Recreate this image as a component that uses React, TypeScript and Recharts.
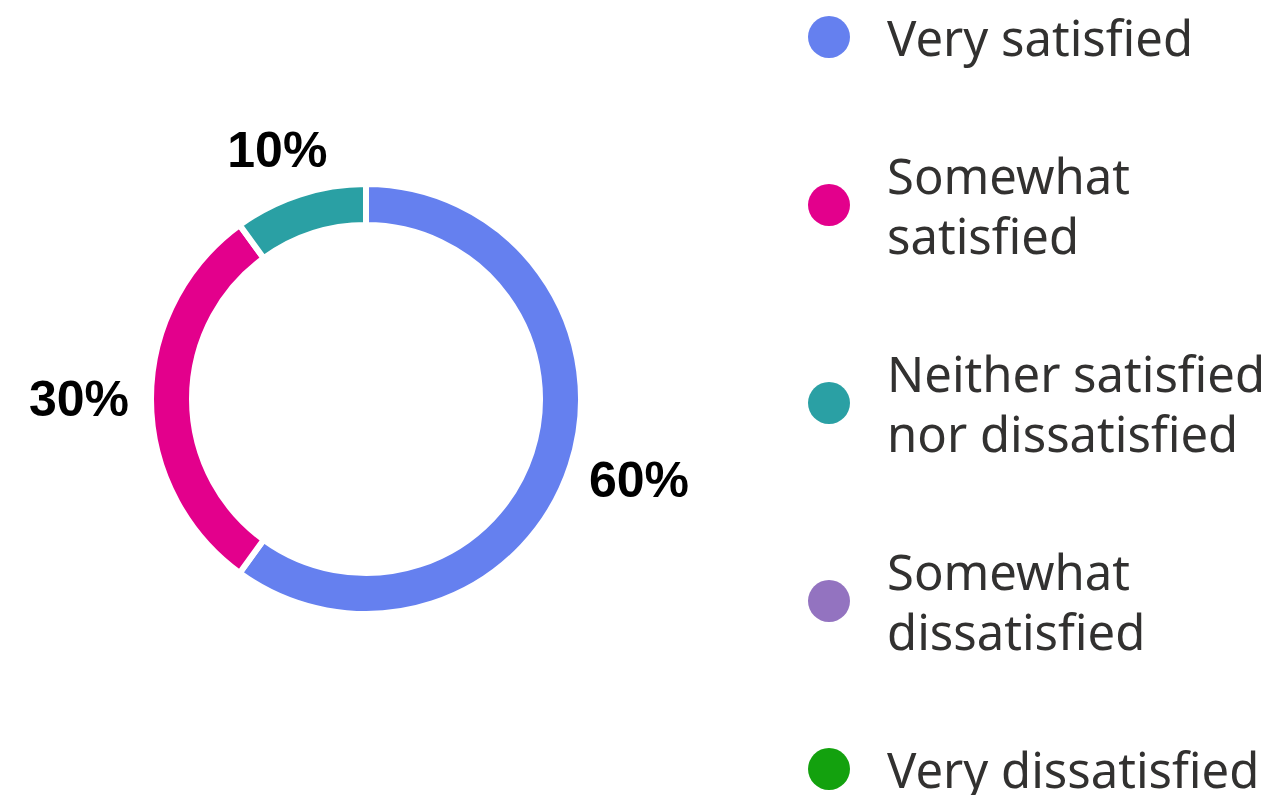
import React from 'react';
import { PieChart, Pie, Cell, Legend } from 'recharts';

const categories = [
  'Very satisfied',
  'Somewhat satisfied',
  'Neither satisfied nor dissatisfied',
  'Somewhat dissatisfied',
  'Very dissatisfied',
];
const shares = [60, 30, 10, 0, 0];
const colors = ['#6580EF', '#E3008C', '#2AA0A4', '#9373C0', '#13A10E'];

const data = categories.map((name, i) => ({ name, value: shares[i] }));

const RADIAN = Math.PI / 180;

// label sits just outside the ring, pushed out by half its own box
const renderLabel = (props: any) => {
  const { cx, cy, midAngle, outerRadius, value } = props;
  if (!value) return null;
  const cos = Math.cos(-midAngle * RADIAN);
  const sin = Math.sin(-midAngle * RADIAN);
  const r = outerRadius + 21;
  const w = 102;
  const h = 52;
  const x = cx + r * cos + (cos * w) / 2;
  const y = cy + r * sin + (sin * h) / 2;
  return (
    <text
      x={x}
      y={y}
      textAnchor="middle"
      dominantBaseline="central"
      fill="#000"
      fontFamily="'Liberation Sans', Arial, sans-serif"
      fontWeight="bold"
      fontSize={50}
    >
      {`${value}%`}
    </text>
  );
};

const renderLegend = () => (
  <div style={{ fontFamily: "'Noto Sans', sans-serif", fontSize: 49, lineHeight: '60px', color: '#323130' }}>
    {categories.map((name, i) => (
      <div key={name} style={{ display: 'flex', alignItems: 'center', marginBottom: 78 }}>
        <span
          style={{
            display: 'inline-block',
            width: 42,
            height: 42,
            borderRadius: '50%',
            background: colors[i],
            marginLeft: 3,
            marginRight: 37,
            flexShrink: 0,
          }}
        />
        <span style={{ width: 425, flexShrink: 0 }}>{name}</span>
      </div>
    ))}
  </div>
);

const App = () => {
  return (
    <div style={{ position: 'absolute', left: 0, top: 0, width: 1269, height: 795, background: '#fff', overflow: 'hidden' }}>
      <PieChart width={1269} height={795} margin={{ top: 0, right: 0, bottom: 0, left: 0 }}>
        <Pie
          data={data}
          dataKey="value"
          nameKey="name"
          cx={366}
          cy={399}
          innerRadius={174}
          outerRadius={215}
          startAngle={90}
          endAngle={-270}
          stroke="#fff"
          strokeWidth={6}
          label={renderLabel}
          labelLine={false}
          isAnimationActive={false}
        >
          {data.map((entry, i) => (
            <Cell key={`cell-${i}`} fill={colors[i]} />
          ))}
        </Pie>
        <Legend
          content={renderLegend}
          wrapperStyle={{ left: 805, top: 7, width: 520 }}
        />
      </PieChart>
    </div>
  );
};

export default App;
